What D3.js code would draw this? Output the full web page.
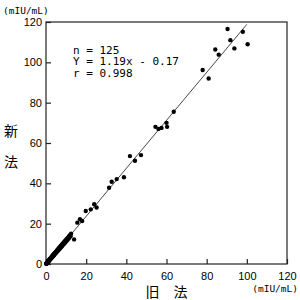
<!DOCTYPE html>
<html>
<head>
<meta charset="utf-8">
<script src="https://cdn.jsdelivr.net/npm/d3@7"></script>
<style>
  html, body { margin: 0; padding: 0; background: #fff; }
  svg { display: block; }
</style>
</head>
<body>
<svg id="chart" width="300" height="300"></svg>
<script>
// 旧法 (x) / 新法 (y) の値
const oldVals = [
  90.4, 98, 91.8, 84.3, 93.8, 100.4, 86, 78, 81, 63.6,
  54.5, 56, 57.5, 60, 60.3, 47.3, 44.3, 41.8, 38.8, 35.2,
  32.7, 31.4, 24, 25.2, 22.3, 19.8, 18, 16.9, 15.6, 14,
  0.2, 0.3, 0.4, 0.5, 0.6, 0.7, 0.8, 0.9, 1.0, 1.1,
  1.2, 1.3, 1.4, 1.5, 1.6, 1.7, 1.8, 1.9, 2.0, 2.1,
  2.2, 2.3, 2.4, 2.5, 2.6, 2.7, 2.8, 2.9, 3.0, 3.1,
  3.2, 3.3, 3.4, 3.5, 3.6, 3.7, 3.8, 3.9, 4.0, 4.1,
  4.3, 4.4, 4.6, 4.7, 4.9, 5.0, 5.2, 5.3, 5.5, 5.6,
  5.8, 5.9, 6.1, 6.2, 6.4, 6.5, 6.7, 6.8, 7.0, 7.1,
  7.3, 7.4, 7.6, 7.8, 8.0, 8.1, 8.3, 8.5, 8.7, 8.8,
  9.0, 9.2, 9.4, 9.5, 9.7, 9.9, 10.1, 10.3, 10.5, 10.7,
  10.9, 11.1, 11.4, 11.6, 11.9, 12.2, 12.5, 0.1, 0.5, 1.5,
  2.5, 3.5, 4.5, 6.0, 7.5, 9.0
];
const newVals = [
  116.5, 115.2, 111, 106.4, 106.9, 109, 103.8, 96.2, 92, 75.5,
  68, 67, 67.5, 70, 68, 54, 51.2, 53.5, 43, 42.1,
  40.8, 37.8, 29.6, 28, 27.1, 26.3, 21.3, 22.2, 20.5, 12.2,
  0.3, 0.2, 0.5, 0.4, 0.8, 0.6, 1.0, 0.9, 1.3, 1.1,
  1.5, 1.3, 1.8, 1.6, 2.0, 1.8, 2.3, 2.1, 2.5, 2.3,
  2.8, 2.5, 3.0, 2.8, 3.2, 3.0, 3.5, 3.3, 3.7, 3.4,
  4.0, 3.7, 4.2, 3.9, 4.4, 4.1, 4.7, 4.4, 5.0, 4.6,
  5.3, 4.9, 5.6, 5.3, 6.0, 5.6, 6.4, 5.9, 6.7, 6.3,
  7.1, 6.6, 7.5, 6.9, 7.8, 7.3, 8.2, 7.6, 8.5, 7.9,
  8.9, 8.3, 9.2, 8.7, 9.7, 9.1, 10.1, 9.5, 10.5, 9.9,
  10.9, 10.3, 11.3, 10.7, 11.6, 11.1, 12.2, 11.5, 12.6, 12.0,
  13.1, 12.5, 13.7, 13.0, 14.3, 13.8, 15.0, 0.1, 0.6, 1.9,
  3.0, 4.3, 5.4, 7.0, 9.0, 10.5
];
const tickVals = [0, 20, 40, 60, 80, 100, 120];
const fitSlope = 1.19;
const fitIntercept = -0.17;
const fitRange = [0, 100];
const statLines = ["n = 125", "Y = 1.19x - 0.17", "r = 0.998"];
const unitLabel = "(mIU/mL)";
const xTitle = "旧\u3000法";
const yTitle = ["新", "法"];

const margin = { top: 22, right: 13, bottom: 36, left: 46 };
const width = 300, height = 300;

const svg = d3.select("#chart");

const x = d3.scaleLinear().domain([0, 120]).range([margin.left, width - margin.right]);
const y = d3.scaleLinear().domain([0, 120]).range([height - margin.bottom, margin.top]);

const tickFont = "11px 'Liberation Sans', Arial, sans-serif";

// 枠
svg.append("rect")
    .attr("x", x(0))
    .attr("y", y(120))
    .attr("width", x(120) - x(0))
    .attr("height", y(0) - y(120))
    .attr("fill", "none")
    .attr("stroke", "#222")
    .attr("stroke-width", 1.2);

// 軸 (内向きの目盛)
const xAxis = svg.append("g")
    .attr("transform", `translate(0,${y(0)})`)
    .call(d3.axisBottom(x).tickValues(tickVals).tickSize(-5).tickPadding(8));
const yAxis = svg.append("g")
    .attr("transform", `translate(${x(0)},0)`)
    .call(d3.axisLeft(y).tickValues(tickVals).tickSize(-5).tickPadding(4));

for (const g of [xAxis, yAxis]) {
  g.select(".domain").remove();
  g.selectAll("line").attr("stroke", "#222").attr("stroke-width", 1.2);
  g.selectAll("text").attr("fill", "#000").style("font", tickFont);
}

// 回帰直線
svg.append("line")
    .attr("x1", x(fitRange[0]))
    .attr("y1", y(fitSlope * fitRange[0] + fitIntercept))
    .attr("x2", x(fitRange[1]))
    .attr("y2", y(fitSlope * fitRange[1] + fitIntercept))
    .attr("stroke", "#333")
    .attr("stroke-width", 0.9);

// 点
svg.append("g")
  .selectAll("circle")
  .data(d3.zip(oldVals, newVals))
  .join("circle")
    .attr("cx", d => x(d[0]))
    .attr("cy", d => y(d[1]))
    .attr("r", 2.2)
    .attr("fill", "#000");

// 統計値
svg.append("g")
  .selectAll("text")
  .data(statLines)
  .join("text")
    .attr("x", 73)
    .attr("y", (d, i) => 53.5 + i * 11.5)
    .style("font", "11px 'DejaVu Sans Mono', monospace")
    .attr("xml:space", "preserve")
    .text(d => d);

// 単位
svg.append("text")
    .attr("x", 3)
    .attr("y", 14)
    .style("font", "9.5px 'DejaVu Sans Mono', monospace")
    .text(unitLabel);
svg.append("text")
    .attr("x", 298)
    .attr("y", 292)
    .attr("text-anchor", "end")
    .style("font", "9.5px 'DejaVu Sans Mono', monospace")
    .text(unitLabel);

// 軸タイトル
svg.append("text")
    .attr("x", (x(0) + x(120)) / 2)
    .attr("y", 297)
    .attr("text-anchor", "middle")
    .style("font", "14px 'Noto Sans CJK JP', sans-serif")
    .text(xTitle);

svg.append("g")
  .selectAll("text")
  .data(yTitle)
  .join("text")
    .attr("x", 11)
    .attr("y", (d, i) => 135.5 + i * 31)
    .attr("text-anchor", "middle")
    .style("font", "14px 'Noto Sans CJK JP', sans-serif")
    .text(d => d);
</script>
</body>
</html>
